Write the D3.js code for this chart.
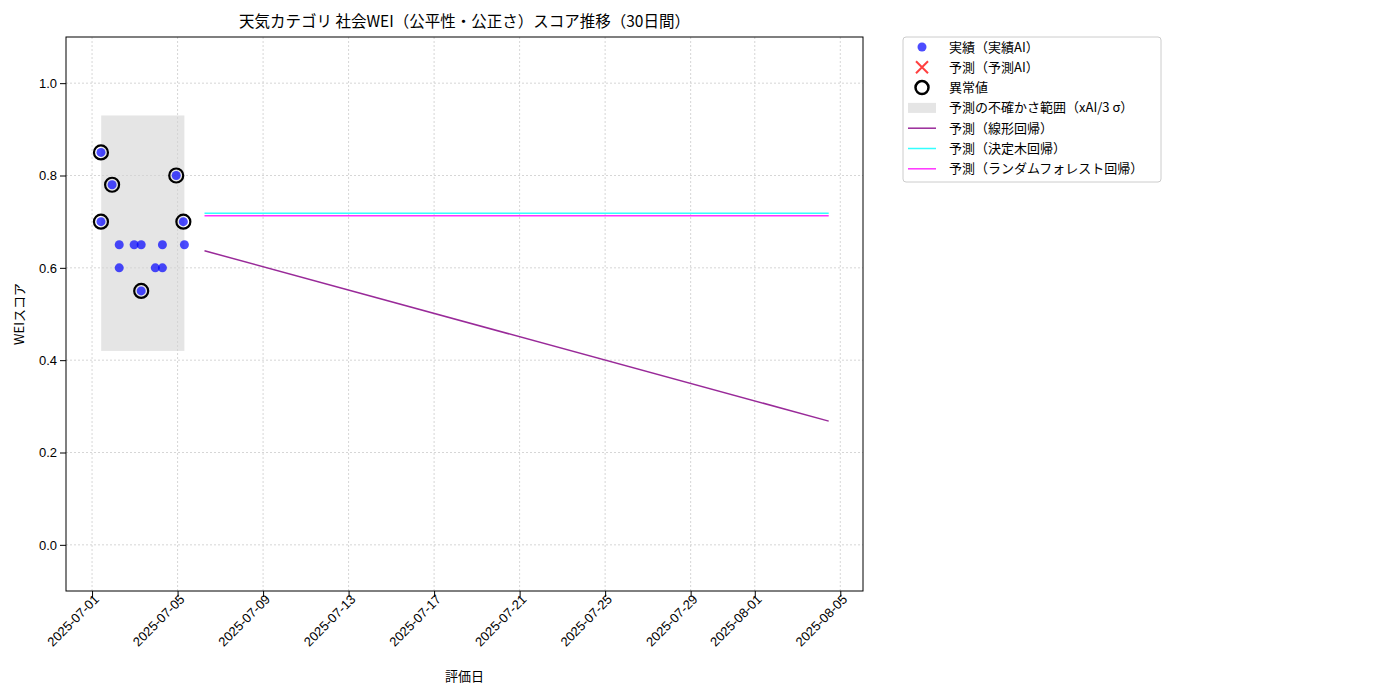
<!DOCTYPE html>
<html><head><meta charset="utf-8">
<script src="https://cdn.jsdelivr.net/npm/d3@7"></script>
<style>body{margin:0;background:#fff;font-family:"Noto Sans CJK JP","DejaVu Sans",sans-serif;}</style>
</head><body><svg id="c" width="1400" height="700"></svg>
<script>
// observed points
var actualDates = ["2025-07-01T10:00","2025-07-01T10:00","2025-07-01T22:30","2025-07-02T06:30","2025-07-02T06:30","2025-07-02T23:15","2025-07-03T07:10","2025-07-03T07:10","2025-07-03T23:00","2025-07-04T07:00","2025-07-04T07:00","2025-07-04T22:30","2025-07-05T06:30","2025-07-05T07:40"];
var actualValues = [0.85,0.70,0.78,0.65,0.60,0.65,0.65,0.55,0.60,0.65,0.60,0.80,0.70,0.65];
var outlierFlags = [1,1,1,0,0,0,0,1,0,0,0,1,1,0];
var bandDates = ["2025-07-01T10:15","2025-07-05T07:40"];
var bandValues = [0.42,0.93];
var lineDates = ["2025-07-06T06:15","2025-08-04T11:00"];
var linearValues = [0.637,0.268];
var treeValues = [0.718,0.718];
var forestValues = [0.713,0.713];
var xTicks = ["2025-07-01","2025-07-05","2025-07-09","2025-07-13","2025-07-17","2025-07-21","2025-07-25","2025-07-29","2025-08-01","2025-08-05"];
var yTicks = [0.0,0.2,0.4,0.6,0.8,1.0];

var svg = d3.select("#c");
var m = {l:66, r:863, t:37, b:591};
var parse = d3.isoParse;
var x = d3.scaleTime().domain([parse("2025-06-29T18:45"), parse("2025-08-06T01:30")]).range([m.l, m.r]);
var y = d3.scaleLinear().domain([-0.1, 1.1]).range([m.b, m.t]);

// grid
svg.append("g").selectAll("line").data(xTicks).enter().append("line")
	.attr("x1", d => x(parse(d))).attr("x2", d => x(parse(d)))
	.attr("y1", m.t).attr("y2", m.b)
	.attr("stroke", "#ccc").attr("stroke-dasharray", "2,2").attr("stroke-width", 0.8);
svg.append("g").selectAll("line").data(yTicks).enter().append("line")
	.attr("x1", m.l).attr("x2", m.r)
	.attr("y1", d => y(d)).attr("y2", d => y(d))
	.attr("stroke", "#ccc").attr("stroke-dasharray", "2,2").attr("stroke-width", 0.8);

// uncertainty band
svg.append("rect")
	.attr("x", x(parse(bandDates[0]))).attr("width", x(parse(bandDates[1])) - x(parse(bandDates[0])))
	.attr("y", y(bandValues[1])).attr("height", y(bandValues[0]) - y(bandValues[1]))
	.attr("fill", "#d3d3d3").attr("fill-opacity", 0.6);

// prediction lines
function drawLine(vals, color){
	var pts = lineDates.map((d, i) => [x(parse(d)), y(vals[i])]);
	svg.append("path").attr("d", d3.line()(pts)).attr("stroke", color).attr("stroke-width", 1.5).attr("fill", "none");
}
drawLine(linearValues, "#992a99");
drawLine(treeValues, "#33ffff");
drawLine(forestValues, "#ff33ff");

// outliers first, then points on top
actualDates.forEach(function(d, i){
	if (outlierFlags[i]) svg.append("circle").attr("cx", x(parse(d))).attr("cy", y(actualValues[i])).attr("r", 7)
		.attr("fill", "none").attr("stroke", "#000").attr("stroke-width", 2.2);
});
svg.append("g").selectAll("circle").data(actualDates).enter().append("circle")
	.attr("cx", d => x(parse(d))).attr("cy", (d, i) => y(actualValues[i])).attr("r", 4.5)
	.attr("fill", "#0000ff").attr("fill-opacity", 0.7);

// frame
svg.append("rect").attr("x", m.l).attr("y", m.t).attr("width", m.r - m.l).attr("height", m.b - m.t)
	.attr("fill", "none").attr("stroke", "#000").attr("stroke-width", 1);

// axes
var xa = svg.append("g").attr("transform", "translate(0," + m.b + ")")
	.call(d3.axisBottom(x).tickValues(xTicks.map(parse)).tickFormat(d3.timeFormat("%Y-%m-%d")).tickSizeOuter(0));
xa.select(".domain").remove();
xa.selectAll("text").attr("font-size", 13).attr("fill", "#000")
	.attr("transform", "rotate(-45)").attr("text-anchor", "end").attr("dx", "-0.1em").attr("dy", "0.2em");
var ya = svg.append("g").attr("transform", "translate(" + m.l + ",0)")
	.call(d3.axisLeft(y).tickValues(yTicks).tickFormat(d3.format(".1f")).tickSizeOuter(0));
ya.select(".domain").remove();
ya.selectAll("text").attr("font-size", 13).attr("fill", "#000");

svg.append("text").attr("x", (m.l + m.r) / 2).attr("y", 27).attr("text-anchor", "middle")
	.attr("font-size", 15.5).text("天気カテゴリ 社会WEI（公平性・公正さ）スコア推移（30日間）");
svg.append("text").attr("x", (m.l + m.r) / 2).attr("y", 681).attr("text-anchor", "middle")
	.attr("font-size", 13).text("評価日");
svg.append("text").attr("transform", "translate(24," + ((m.t + m.b) / 2) + ") rotate(-90)").attr("text-anchor", "middle")
	.attr("font-size", 13).text("WEIスコア");

// legend
var lg = svg.append("g").attr("transform", "translate(903,37)");
lg.append("rect").attr("width", 258).attr("height", 145).attr("rx", 3).attr("fill", "#fff").attr("stroke", "#ccc");
var items = ["実績（実績AI）","予測（予測AI）","異常値","予測の不確かさ範囲（xAI/3 σ）","予測（線形回帰）","予測（決定木回帰）","予測（ランダムフォレスト回帰）"];
items.forEach(function(t, i){
	var cy = 10 + i * 20.3;
	lg.append("text").attr("x", 46).attr("y", cy + 4.5).attr("font-size", 13).text(t);
	var cx = 19;
	if (i == 0) lg.append("circle").attr("cx", cx).attr("cy", cy).attr("r", 4.5).attr("fill", "#0000ff").attr("fill-opacity", 0.7);
	if (i == 1) lg.append("path").attr("d", "M" + (cx-6) + "," + (cy-6) + "L" + (cx+6) + "," + (cy+6) + "M" + (cx-6) + "," + (cy+6) + "L" + (cx+6) + "," + (cy-6))
		.attr("stroke", "#ff4040").attr("stroke-width", 2);
	if (i == 2) lg.append("circle").attr("cx", cx).attr("cy", cy).attr("r", 6.5).attr("fill", "none").attr("stroke", "#000").attr("stroke-width", 2.5);
	if (i == 3) lg.append("rect").attr("x", 5).attr("y", cy - 5).attr("width", 28).attr("height", 10).attr("fill", "#d3d3d3").attr("fill-opacity", 0.6);
	var colors = {4:"#992a99", 5:"#33ffff", 6:"#ff33ff"};
	if (colors[i]) lg.append("line").attr("x1", 5).attr("x2", 33).attr("y1", cy).attr("y2", cy).attr("stroke", colors[i]).attr("stroke-width", 1.5);
});
</script>
</body></html>
